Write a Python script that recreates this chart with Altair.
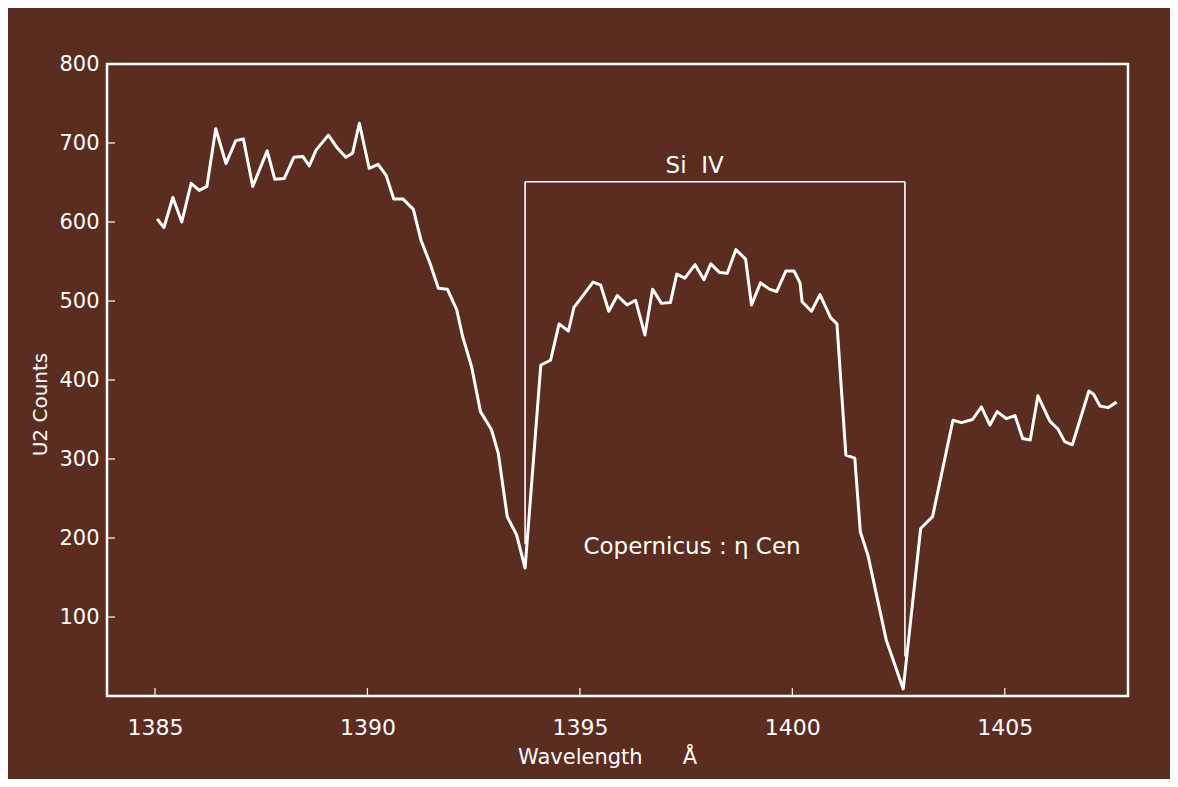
import altair as alt
import pandas as pd

# ---- data ----
wavelength = [
    1385.05, 1385.21, 1385.42, 1385.63, 1385.85, 1386.04, 1386.22, 1386.43, 1386.67, 1386.90,
    1387.08, 1387.30, 1387.64, 1387.82, 1388.04, 1388.27, 1388.48, 1388.63, 1388.79, 1389.08,
    1389.27, 1389.49, 1389.65, 1389.81, 1390.04, 1390.25, 1390.44, 1390.62, 1390.84, 1391.08,
    1391.26, 1391.47, 1391.67, 1391.88, 1392.10, 1392.24, 1392.45, 1392.66, 1392.92, 1393.08,
    1393.29, 1393.51, 1393.71, 1394.08, 1394.31, 1394.51, 1394.73, 1394.86, 1395.09, 1395.31,
    1395.49, 1395.68, 1395.88, 1396.11, 1396.31, 1396.53, 1396.71, 1396.92, 1397.13, 1397.28,
    1397.47, 1397.71, 1397.92, 1398.08, 1398.29, 1398.47, 1398.67, 1398.90, 1399.04, 1399.25,
    1399.46, 1399.63, 1399.85, 1400.04, 1400.18, 1400.23, 1400.45, 1400.65, 1400.90, 1401.05,
    1401.26, 1401.47, 1401.60, 1401.78, 1402.21, 1402.61, 1403.02, 1403.30, 1403.78, 1403.98,
    1404.24, 1404.45, 1404.65, 1404.82, 1405.04, 1405.24, 1405.42, 1405.60, 1405.78, 1406.06,
    1406.25, 1406.41, 1406.59, 1406.98, 1407.09, 1407.24, 1407.43, 1407.63,
]
counts = [
    604, 593, 631, 600, 649, 640, 645, 718, 674, 703,
    705, 645, 690, 654, 655, 682, 683, 671, 691, 710,
    695, 682, 687, 725, 668, 673, 659, 629, 629, 616,
    577, 548, 516, 515, 489, 455, 417, 360, 337, 307,
    227, 204, 162, 419, 425, 471, 462, 492, 508, 524,
    520, 487, 507, 495, 501, 457, 515, 497, 498, 534,
    529, 546, 527, 547, 536, 535, 565, 553, 495, 523,
    515, 512, 538, 538, 523, 499, 487, 508, 479, 471,
    305, 301, 208, 178, 71, 9, 212, 227, 349, 346,
    350, 366, 343, 360, 351, 355, 326, 324, 380, 348,
    338, 322, 318, 386, 382, 367, 365, 372,
]

x_ticks = [1385, 1390, 1395, 1400, 1405]
y_ticks = [100, 200, 300, 400, 500, 600, 700, 800]

# Si IV bracket segments (left, top, right)
bracket_x = [1393.71, 1393.71, 1402.65]
bracket_x2 = [1393.71, 1402.65, 1402.65]
bracket_y = [651, 651, 651]
bracket_y2 = [192, 651, 50]

label_text = ["Si\u00a0\u00a0IV", "Copernicus : η Cen"]
label_x = [1397.7, 1397.64]
label_y = [671, 189]

BG = "#5b2c20"
FG = "white"
FONT = "DejaVu Sans"

x_scale = alt.Scale(domain=[1383.87, 1407.9], nice=False, zero=False)
y_scale = alt.Scale(domain=[0, 800], nice=False, zero=False)

spec = pd.DataFrame({"wl": wavelength, "c": counts})
bracket = pd.DataFrame({"x": bracket_x, "x2": bracket_x2, "y": bracket_y, "y2": bracket_y2})
labels = pd.DataFrame({"t": label_text, "x": label_x, "y": label_y})
xt = pd.DataFrame({"x": x_ticks})
yt = pd.DataFrame({"y": [v for v in y_ticks if v < 800]})

line = alt.Chart(spec).mark_line(color=FG, strokeWidth=3, strokeJoin="round").encode(
    x=alt.X("wl:Q", scale=x_scale, axis=alt.Axis(
        values=x_ticks, format="d", grid=False, domain=False, ticks=False,
        labelFontSize=22, labelColor=FG, labelFont=FONT, labelPadding=21,
        title="Wavelength\u00a0\u00a0\u00a0\u00a0\u00a0\u00a0Å", titleColor=FG, titleFont=FONT,
        titleFontSize=21, titleFontWeight="normal", titleX=500, titleY=61,
        titleAlign="center", titleBaseline="middle")),
    y=alt.Y("c:Q", scale=y_scale, axis=alt.Axis(
        values=y_ticks, format="d", grid=False, domain=False, ticks=False,
        labelFontSize=21, labelColor=FG, labelFont=FONT, labelPadding=8,
        title="U2 Counts", titleColor=FG, titleFont=FONT, titleFontSize=20,
        titleFontWeight="normal", titleAngle=270, titleX=-67, titleY=340,
        titleAlign="center", titleBaseline="middle")),
)

box = alt.Chart(bracket).mark_rule(color=FG, strokeWidth=1.6).encode(
    x=alt.X("x:Q", scale=x_scale), x2="x2:Q",
    y=alt.Y("y:Q", scale=y_scale), y2="y2:Q",
)

xtick = alt.Chart(xt).mark_rule(color=FG, strokeWidth=1.2).encode(
    x=alt.X("x:Q", scale=x_scale), y=alt.value(632), y2=alt.value(624),
)
ytick = alt.Chart(yt).mark_rule(color=FG, strokeWidth=1.2).encode(
    y=alt.Y("y:Q", scale=y_scale), x=alt.value(0), x2=alt.value(8),
)

text = alt.Chart(labels).mark_text(color=FG, font=FONT, fontSize=23, align="center",
                                   baseline="middle").encode(
    x=alt.X("x:Q", scale=x_scale), y=alt.Y("y:Q", scale=y_scale), text="t:N",
)

chart = alt.layer(xtick, ytick, box, line, text).properties(
    width=1021, height=632,
    padding={"left": 99, "top": 56, "right": 42, "bottom": 83},
    autosize=alt.AutoSizeParams(type="none"),
    background=BG,
).configure_view(stroke=FG, strokeWidth=2.5)

chart.save("out.html", embed_options={"renderer": "svg", "actions": False})
